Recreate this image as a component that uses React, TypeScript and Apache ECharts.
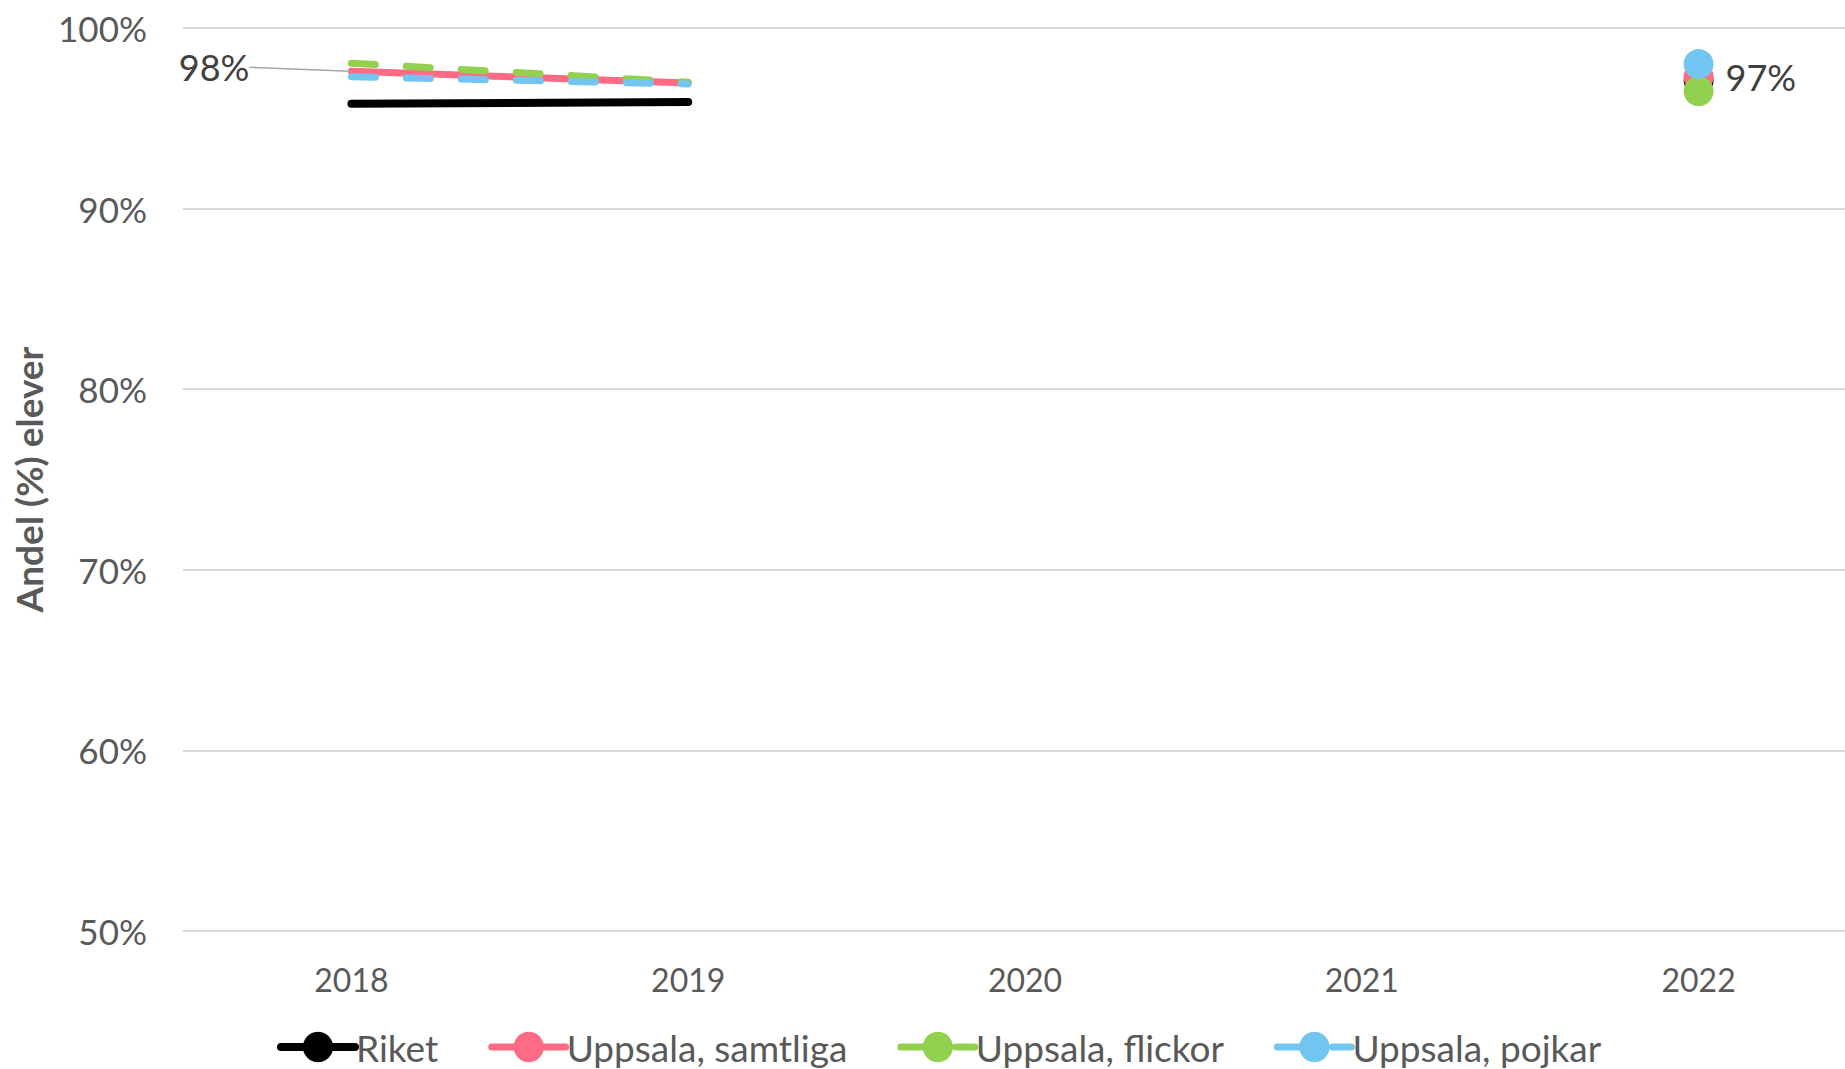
import React, { useEffect, useRef } from "react";
import * as echarts from "echarts";

const years = ["2018", "2019", "2020", "2021", "2022"];
const riket = [95.8, 95.9, null, null, 97.1];
const samtliga = [97.6, 96.95, null, null, 97.3];
const flickor = [98.05, 97.0, null, null, 96.5];
const pojkar = [97.3, 96.9, null, null, 98.0];
const seriesNames = ["Riket", "Uppsala, samtliga", "Uppsala, flickor", "Uppsala, pojkar"];
const yTicks = [50, 60, 70, 80, 90, 100];

const FONT = "Lato, 'Open Sans', sans-serif";
const COLORS = ["#000000", "#FF6A84", "#92D050", "#72C5EE"];

function buildData(vals: (number | null)[], labelIdx: number[] = [], leaderIdx: number = -1) {
  return vals.map((v, i) => {
    if (v === null) return null;
    const isLast = i === vals.length - 1;
    const item: any = { value: v };
    if (!isLast) {
      item.symbolSize = 2;
      item.itemStyle = { color: "rgba(0,0,0,0)" };
    }
    if (labelIdx.includes(i)) {
      item.label = {
        show: true,
        position: i === leaderIdx ? "left" : "right",
        distance: i === leaderIdx ? 4 : 12,
        padding: i === leaderIdx ? [0, 9, 0, 0] : 0,
      };
      if (i === leaderIdx) {
        item.labelLine = { show: true, lineStyle: { color: "#A6A6A6", width: 1.5 } };
      }
    }
    return item;
  });
}

export default function App() {
  const ref = useRef<HTMLDivElement>(null);
  useEffect(() => {
    if (!ref.current) return;
    const chart = echarts.init(ref.current, undefined, { renderer: "svg" });
    const mk = (name: string, vals: any[], color: string, dashed: boolean, extra: any = {}) => ({
      name,
      type: "line",
      data: vals,
      symbol: "circle",
      symbolSize: 30,
      showSymbol: true,
      connectNulls: false,
      itemStyle: { color },
      lineStyle: dashed
        ? { color, width: 7, type: [24, 31], cap: "round" }
        : { color, width: name === "Riket" ? 8 : 7, cap: "round" },
      emphasis: { disabled: true },
      label: { show: false },
      ...extra,
    });
    chart.setOption({
      animation: false,
      textStyle: { fontFamily: FONT },
      grid: { left: 183, top: 28, width: 1684, height: 903, outerBoundsMode: "none", containLabel: false },
      legend: {
        top: 1023,
        left: 272,
        itemWidth: 74,
        itemHeight: 38,
        itemGap: 50,
        lineStyle: { width: "inherit", type: "inherit" },
        textStyle: { fontSize: 37, lineHeight: 38, color: "#595959", fontFamily: FONT, padding: [0, 0, 0, -4] },
        data: seriesNames,
      },
      xAxis: {
        type: "category",
        data: years,
        boundaryGap: true,
        axisLine: { show: false },
        axisTick: { show: false },
        axisLabel: { fontSize: 32, color: "#595959", margin: 32, fontFamily: FONT },
      },
      yAxis: {
        type: "value",
        min: yTicks[0],
        max: yTicks[yTicks.length - 1],
        interval: 10,
        axisLine: { show: false },
        axisTick: { show: false },
        splitLine: { lineStyle: { color: "#D9D9D9", width: 2 } },
        axisLabel: { fontSize: 35, color: "#595959", margin: 36, formatter: "{value}%", fontFamily: FONT },
        name: "Andel (%) elever",
        nameLocation: "middle",
        nameGap: 136,
        nameTextStyle: { fontSize: 37, fontWeight: "bold", color: "#595959", fontFamily: FONT },
      },
      series: [
        mk(seriesNames[0], buildData(riket), COLORS[0], false),
        mk(seriesNames[1], buildData(samtliga, [0, 4], 0), COLORS[1], false, {
          label: {
            show: false,
            fontSize: 36,
            color: "#404040",
            fontFamily: FONT,
            formatter: (p: any) => Math.round(p.value) + "%",
          },
          labelLine: { show: false },
          labelLayout: (params: any) =>
            params.dataIndex === 0 ? { dx: -88, dy: -4 } : {},
        }),
        mk(seriesNames[2], buildData(flickor), COLORS[2], true),
        mk(seriesNames[3], buildData(pojkar), COLORS[3], true),
      ],
    });
    return () => chart.dispose();
  }, []);
  return (
    <div
      ref={ref}
      style={{ position: "fixed", left: 0, top: 0, width: 1845, height: 1069, background: "#fff" }}
    />
  );
}
